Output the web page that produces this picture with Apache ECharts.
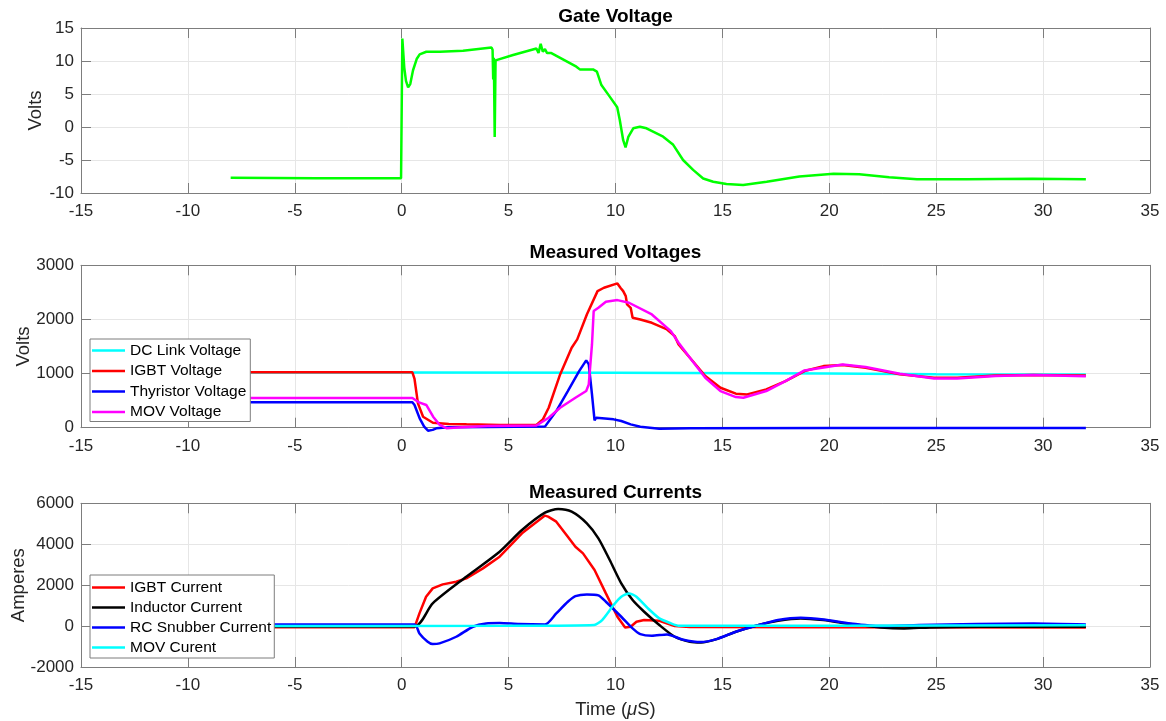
<!DOCTYPE html>
<html>
<head>
<meta charset="utf-8">
<script src="https://cdn.jsdelivr.net/npm/echarts@6/dist/echarts.min.js"></script>
<style>
html,body{margin:0;padding:0;background:#fff;}
#chart{width:1166px;height:721px;}
</style>
</head>
<body>
<div id="chart"></div>
<script>
// ---------- Data (time in microseconds, value) ----------
const xTicks = [-15, -10, -5, 0, 5, 10, 15, 20, 25, 30, 35];

const gateVoltage = [
  [-8,-7.7],[-4,-7.75],[-0.03,-7.75],[0,-8.0],[0.03,13.4],[0.12,9.0],[0.2,7.0],[0.3,6.0],[0.4,6.5],
  [0.53,8.6],[0.7,10.3],[0.84,11.0],[1.15,11.4],[1.78,11.4],[2.87,11.55],[4.2,12.05],[4.25,11.7],
  [4.28,7.2],[4.31,10.5],[4.35,-1.5],[4.39,10.1],[4.43,10.25],[5.21,10.9],[6.3,11.9],[6.4,11.2],
  [6.5,12.6],[6.6,11.4],[6.7,11.8],[6.8,11.2],[7.0,11.2],[8.17,9.14],[8.33,8.73],[8.95,8.73],
  [9.13,8.4],[9.34,6.36],[9.73,4.6],[10.08,3.0],[10.2,1.06],[10.36,-2.0],[10.47,-3.1],[10.6,-1.5],
  [10.83,-0.2],[11.14,0.05],[11.45,-0.2],[12.23,-1.47],[12.7,-2.7],[13.16,-5.0],[13.63,-6.5],
  [14.1,-7.8],[14.57,-8.3],[15.19,-8.64],[15.97,-8.8],[17.07,-8.3],[18.6,-7.5],[20.2,-7.1],
  [21.4,-7.15],[22.8,-7.6],[24.1,-7.9],[26.4,-7.93],[29.5,-7.85],[32.0,-7.9]
];

const dcLinkVoltage = [[-8,1022],[0.5,1022],[10,1015],[20,1000],[25,988],[32,985]];

const igbtVoltage = [
  [-8,1023],[0.5,1023],[0.6,900],[0.76,450],[1.0,203],[1.46,92],[2.2,70],[3.03,62],[4.6,50],[6.3,50],
  [6.6,150],[6.875,369],[7.41,985],[7.95,1477],[8.21,1631],[8.66,2092],[9.16,2523],[9.46,2585],
  [10.09,2665],[10.23,2585],[10.36,2523],[10.48,2431],[10.54,2277],[10.71,2215],[10.8,2031],
  [11.16,2000],[11.7,1938],[12.41,1815],[12.77,1692],[12.95,1538],[13.48,1292],[14.2,954],
  [14.91,738],[15.63,628],[16.16,615],[17.05,708],[17.95,862],[18.84,1046],[19.73,1138],
  [20.63,1157],[21.7,1108],[23.3,985],[24.9,923],[25.98,923],[27.77,966],[29.55,972],[32,965]
];

const thyristorVoltage = [
  [-8,470],[0.5,470],[0.6,420],[0.84,173],[1.05,20],[1.23,-55],[1.45,-40],[1.62,-12],[2.2,10],
  [4,15],[6.7,20],[7.23,308],[7.77,677],[8.3,1046],[8.63,1243],[8.75,1169],[8.9,615],[9.02,135],
  [9.1,185],[9.91,154],[10.27,123],[10.71,62],[11.16,18],[12.05,-18],[13.5,-12],[20,-5],[32,-5]
];

const movVoltage = [
  [-8,549],[0.5,549],[0.84,462],[1.15,420],[1.47,203],[1.78,50],[2.09,-10],[2.6,5],[4,30],[6.3,40],
  [6.875,185],[7.41,369],[8.125,554],[8.63,677],[8.75,800],[8.9,1538],[8.98,2154],[9.2,2215],
  [9.55,2326],[10.09,2357],[10.63,2308],[11.7,2092],[12.59,1785],[12.95,1569],[13.48,1292],
  [14.2,923],[14.91,677],[15.63,566],[15.98,554],[17.05,677],[17.95,862],[18.84,1058],[20.63,1169],
  [21.7,1120],[23.3,997],[24.9,910],[25.98,910],[27.77,954],[29.55,972],[32,950]
];

const igbtCurrent = [
  [-8,-60],[0.6,-60],[0.83,620],[1.14,1434],[1.45,1842],[1.92,2037],[2.55,2168],[3.02,2331],
  [3.8,2820],[4.58,3390],[5.625,4531],[6.7,5400],[6.85,5350],[7.23,5102],[7.77,4368],[8.125,3879],
  [8.48,3553],[9.02,2738],[9.55,1597],[10.09,456],[10.45,-65],[10.71,-33],[10.98,212],[11.34,293],
  [12.05,261],[12.77,0],[13.48,-40],[20,-60],[32,-65]
];

const inductorCurrent = [
  [-8,-20],[0.6,-20],[1.45,1108],[3.02,2412],[4.58,3635],[5.625,4694],[6.7,5542],[7.32,5721],
  [7.95,5591],[8.66,5020],[9.2,4287],[9.73,3227],[10.27,2086],[10.8,1271],[11.34,701],[12.05,49],
  [12.77,-522],[13.48,-766],[14.0,-800],[14.73,-636],[15.63,-277],[16.7,49],[17.6,261],[18.66,375],
  [19.73,293],[20.98,98],[22.4,-65],[23.5,-114],[24.7,-65],[27,-33],[32,-33]
];

const snubberCurrent = [
  [-8,80],[0.6,80],[0.83,-359],[1.2,-750],[1.45,-880],[1.77,-848],[2.55,-522],[3.33,-33],[3.95,130],
  [4.58,150],[5.5,100],[6.7,82],[7.23,620],[7.77,1190],[8.125,1467],[8.66,1549],[9.2,1500],
  [9.55,1190],[10.27,456],[10.8,-114],[11.16,-391],[11.7,-473],[12.41,-408],[13.125,-652],
  [14.0,-782],[14.73,-636],[15.63,-277],[16.7,49],[17.6,293],[18.66,408],[19.73,326],[20.98,130],
  [22.4,0],[24.2,49],[26.9,98],[29.55,130],[32,82]
];

const movCurrent = [
  [-8,0],[5,10],[9.0,49],[9.375,293],[9.91,1027],[10.27,1434],[10.63,1597],[10.98,1434],[11.52,864],
  [12.05,375],[12.6,130],[12.95,16],[20,20],[32,40]
];

// ---------- Layout / style ----------
const FONT = 'Liberation Sans, Arial, Helvetica, sans-serif';
const AXIS_COLOR = '#7d7d7d';
const LABEL_COLOR = '#262626';
const GRID_COLOR = '#e6e6e6';
const LEFT = 81, RIGHT = 16;

const grids = [
  {left: LEFT, right: RIGHT, top: 28, height: 165, containLabel: false, outerBoundsMode: 'none'},
  {left: LEFT, right: RIGHT, top: 265.3, height: 162.4, containLabel: false, outerBoundsMode: 'none'},
  {left: LEFT, right: RIGHT, top: 503.3, height: 163.7, containLabel: false, outerBoundsMode: 'none'}
];
const yRanges = [
  {min: -10, max: 15, interval: 5, name: 'Volts', gap: 36},
  {min: 0, max: 3000, interval: 1000, name: 'Volts', gap: 48},
  {min: -2000, max: 6000, interval: 2000, name: 'Amperes', gap: 53}
];

const plainNumber = v => String(v);

const xAxes = [], yAxes = [];
grids.forEach((g, i) => {
  xAxes.push({
    type: 'value', gridIndex: i, min: -15, max: 35, interval: 5, position: 'bottom',
    axisLine: {show: true, onZero: false, lineStyle: {color: AXIS_COLOR, width: 1}},
    axisTick: {show: true, inside: true, length: 10, lineStyle: {color: AXIS_COLOR}},
    axisLabel: {show: true, margin: 10, color: LABEL_COLOR, fontSize: 17, fontFamily: FONT, formatter: plainNumber},
    splitLine: {show: true, lineStyle: {color: GRID_COLOR, width: 1}},
    name: i === 2 ? 'Time ({mu|μ}S)' : '',
    nameLocation: 'middle', nameGap: 33,
    nameTextStyle: {fontSize: 18.5, color: LABEL_COLOR, fontFamily: FONT,
      rich: {mu: {fontStyle: 'italic', fontSize: 18.5, color: LABEL_COLOR, fontFamily: FONT}}}
  });
  xAxes.push({
    type: 'value', gridIndex: i, min: -15, max: 35, interval: 5, position: 'top',
    axisLine: {show: true, onZero: false, lineStyle: {color: AXIS_COLOR, width: 1}},
    axisTick: {show: true, inside: true, length: 10, lineStyle: {color: AXIS_COLOR}},
    axisLabel: {show: false}, splitLine: {show: false}
  });
  const r = yRanges[i];
  yAxes.push({
    type: 'value', gridIndex: i, min: r.min, max: r.max, interval: r.interval, position: 'left',
    axisLine: {show: true, onZero: false, lineStyle: {color: AXIS_COLOR, width: 1}},
    axisTick: {show: true, inside: true, length: 10, lineStyle: {color: AXIS_COLOR}},
    axisLabel: {show: true, margin: 7, color: LABEL_COLOR, fontSize: 17, fontFamily: FONT, formatter: plainNumber},
    splitLine: {show: true, lineStyle: {color: GRID_COLOR, width: 1}},
    name: r.name, nameLocation: 'middle', nameGap: r.gap, nameRotate: 90, nameMoveOverlap: false,
    nameTextStyle: {fontSize: 18.5, color: LABEL_COLOR, fontFamily: FONT}
  });
  yAxes.push({
    type: 'value', gridIndex: i, min: r.min, max: r.max, interval: r.interval, position: 'right',
    axisLine: {show: true, onZero: false, lineStyle: {color: AXIS_COLOR, width: 1}},
    axisTick: {show: true, inside: true, length: 10, lineStyle: {color: AXIS_COLOR}},
    axisLabel: {show: false}, splitLine: {show: false}
  });
});

function line(name, data, color, gi, smooth) {
  return {
    type: 'line', name: name, data: data, xAxisIndex: gi * 2, yAxisIndex: gi * 2,
    symbol: 'none', showSymbol: false, clip: false, silent: true,
    smooth: smooth || false,
    lineStyle: {color: color, width: 2.5}, itemStyle: {color: color}
  };
}

const series = [
  line('Gate Voltage', gateVoltage, '#00ff00', 0),
  line('DC Link Voltage', dcLinkVoltage, '#00ffff', 1),
  line('IGBT Voltage', igbtVoltage, '#ff0000', 1),
  line('Thyristor Voltage', thyristorVoltage, '#0000ff', 1),
  line('MOV Voltage', movVoltage, '#ff00ff', 1),
  line('IGBT Current', igbtCurrent, '#ff0000', 2),
  line('Inductor Current', inductorCurrent, '#000000', 2, 0.25),
  line('RC Snubber Current', snubberCurrent, '#0000ff', 2, 0.25),
  line('MOV Curent', movCurrent, '#00ffff', 2, 0.2)
];

const titleBase = {left: 615.5, textAlign: 'center', padding: 0,
  textStyle: {fontSize: 19, fontWeight: 'bold', color: '#000', fontFamily: FONT}};
const legendBase = {
  orient: 'vertical', left: 90, icon: 'rect', itemWidth: 33, itemHeight: 2.5,
  selectedMode: false, borderColor: AXIS_COLOR, borderWidth: 1, backgroundColor: '#fff',
  textStyle: {fontSize: 15.5, lineHeight: 17, color: '#000', fontFamily: FONT}, z: 10
};

const option = {
  animation: false,
  backgroundColor: '#fff',
  title: [
    Object.assign({}, titleBase, {text: 'Gate Voltage', top: 7.5}),
    Object.assign({}, titleBase, {text: 'Measured Voltages', top: 243.5}),
    Object.assign({}, titleBase, {text: 'Measured Currents', top: 483.5})
  ],
  legend: [
    Object.assign({}, legendBase, {top: 339, itemGap: 3.5, padding: [3, 4, 1, 2],
      data: ['DC Link Voltage', 'IGBT Voltage', 'Thyristor Voltage', 'MOV Voltage']}),
    Object.assign({}, legendBase, {top: 575, itemGap: 3, padding: [4, 3, 2, 2],
      data: ['IGBT Current', 'Inductor Current', 'RC Snubber Current', 'MOV Curent']})
  ],
  grid: grids,
  xAxis: xAxes,
  yAxis: yAxes,
  series: series
};

const chart = echarts.init(document.getElementById('chart'), null, {renderer: 'canvas'});
chart.setOption(option);
</script>
</body>
</html>
